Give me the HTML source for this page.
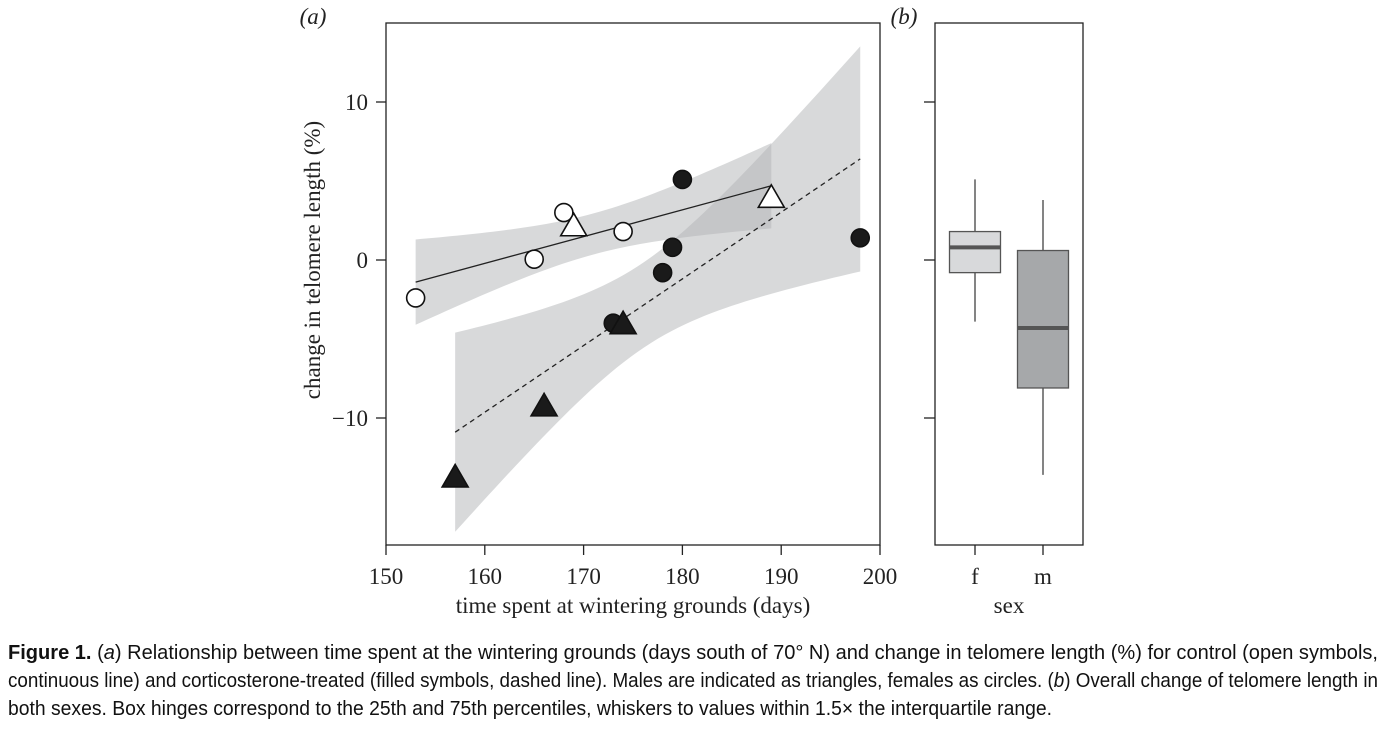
<!DOCTYPE html>
<html><head><meta charset="utf-8"><style>
body{margin:0;background:#fff;width:1386px;height:740px;overflow:hidden}
svg{display:block}
.t{font-family:"Liberation Serif",serif;font-size:23px;fill:#222}
.c{font-family:"Liberation Sans Narrow","Liberation Sans",sans-serif;font-size:20px;fill:#111}
</style></head><body>
<svg id="fig" width="1386" height="740">
<g id="pa"></g>
<g id="pb"></g>
<g>
<text class="c" x="8" y="659" textLength="1370" lengthAdjust="spacingAndGlyphs"><tspan font-weight="bold">Figure 1.</tspan> (<tspan font-style="italic">a</tspan>) Relationship between time spent at the wintering grounds (days south of 70° N) and change in telomere length (%) for control (open symbols,</text>
<text class="c" x="8" y="687" textLength="1370" lengthAdjust="spacingAndGlyphs">continuous line) and corticosterone-treated (filled symbols, dashed line). Males are indicated as triangles, females as circles. (<tspan font-style="italic">b</tspan>) Overall change of telomere length in</text>
<text class="c" x="8" y="715" textLength="1044" lengthAdjust="spacingAndGlyphs">both sexes. Box hinges correspond to the 25th and 75th percentiles, whiskers to values within 1.5× the interquartile range.</text>
</g>
</svg>
<script>
const xTicks=[150,160,170,180,190,200];
const yTicks=[10,0,-10];
const ctrlCircX=[153,165,168,174];
const ctrlCircY=[-2.4,0.05,3.0,1.8];
const ctrlTriX=[169,189];
const ctrlTriY=[2.2,4.0];
const trtCircX=[180,179,178,173,198];
const trtCircY=[5.1,0.8,-0.8,-4.0,1.4];
const trtTriX=[157,166,174];
const trtTriY=[-13.7,-9.2,-4.0];
const ctrlLine=[[153,-1.4],[189,4.7]];
const trtLine=[[157,-10.9],[198,6.4]];
const ctrlBand={x0:153,x1:189,w0:1.3,xm:171,k:0.0173};
const trtBand={x0:157,x1:198,w0:2.7,xm:176,k:0.0898};
const boxCats=['f','m'];
const boxWhiskLo=[-3.9,-13.6];
const boxQ1=[-0.8,-8.1];
const boxMed=[0.8,-4.3];
const boxQ3=[1.8,0.6];
const boxWhiskHi=[5.1,3.8];

const NS='http://www.w3.org/2000/svg';
function mk(p,tag,a,txt){const e=document.createElementNS(NS,tag);for(const k in a)e.setAttribute(k,a[k]);if(txt!==undefined)e.textContent=txt;p.appendChild(e);return e;}
const X=v=>386+(v-150)*9.88;
const Y=v=>260-v*15.8;
const pa=document.getElementById('pa'), pb=document.getElementById('pb');

function band(b,line,name){
  const sl=(line[1][1]-line[0][1])/(line[1][0]-line[0][0]);
  const c=x=>line[0][1]+sl*(x-line[0][0]);
  const w=x=>Math.sqrt(b.w0*b.w0+b.k*(x-b.xm)*(x-b.xm));
  let up=[],lo=[];
  for(let i=0;i<=60;i++){const x=b.x0+(b.x1-b.x0)*i/60;up.push(X(x)+','+Y(c(x)+w(x)));lo.unshift(X(x)+','+Y(c(x)-w(x)));}
  const e=mk(pa,'polygon',{points:up.concat(lo).join(' '),fill:'#b2b3b5','fill-opacity':0.5});
  
  
}
band(ctrlBand,ctrlLine,'control-confidence-band');
band(trtBand,trtLine,'treated-confidence-band');
let l=mk(pa,'line',{x1:X(ctrlLine[0][0]),y1:Y(ctrlLine[0][1]),x2:X(ctrlLine[1][0]),y2:Y(ctrlLine[1][1]),stroke:'#222','stroke-width':1.3});


l=mk(pa,'line',{x1:X(trtLine[0][0]),y1:Y(trtLine[0][1]),x2:X(trtLine[1][0]),y2:Y(trtLine[1][1]),stroke:'#222','stroke-width':1.3,'stroke-dasharray':'5,4'});



function circ(xs,ys,fill,name){xs.forEach((x,i)=>{const e=mk(pa,'circle',{cx:X(x),cy:Y(ys[i]),r:9,fill:fill,stroke:'#111','stroke-width':1.6});

});}
function tri(xs,ys,fill,name){xs.forEach((x,i)=>{const cx=X(x),cy=Y(ys[i]);const e=mk(pa,'polygon',{points:`${cx},${cy-12} ${cx-13},${cy+10.5} ${cx+13},${cy+10.5}`,fill:fill,stroke:'#111','stroke-width':1.6});

});}
circ(ctrlCircX,ctrlCircY,'#fff','control-female-point');
tri(ctrlTriX,ctrlTriY,'#fff','control-male-point');
circ(trtCircX,trtCircY,'#1a1a1a','treated-female-point');
tri(trtTriX,trtTriY,'#1a1a1a','treated-male-point');

let r=mk(pa,'rect',{x:386,y:23,width:494,height:522,fill:'none',stroke:'#222','stroke-width':1.3});


xTicks.forEach(v=>{mk(pa,'line',{x1:X(v),x2:X(v),y1:545,y2:555,stroke:'#222','stroke-width':1.3});
const t=mk(pa,'text',{x:X(v),y:584,'text-anchor':'middle',class:'t'},v);

});
yTicks.forEach(v=>{mk(pa,'line',{x1:376,x2:386,y1:Y(v),y2:Y(v),stroke:'#222','stroke-width':1.3});
const t=mk(pa,'text',{x:368,y:Y(v)+8,'text-anchor':'end',class:'t'},v<0?'\u2212'+(-v):v);

});
let t=mk(pa,'text',{x:633,y:613,'text-anchor':'middle',class:'t'},'time spent at wintering grounds (days)');


t=mk(pa,'text',{x:320,y:260,'text-anchor':'middle',class:'t',transform:'rotate(-90 320 260)'},'change in telomere length (%)');


t=mk(pa,'text',{x:313,y:24,'text-anchor':'middle',class:'t','font-style':'italic'},'(a)');



// panel b
const BX=[975,1043], BW=51, fills=['#d8d9db','#a6a8aa'];
boxCats.forEach((c,i)=>{
  const cx=BX[i];
  let e=mk(pb,'line',{x1:cx,x2:cx,y1:Y(boxWhiskHi[i]),y2:Y(boxWhiskLo[i]),stroke:'#333','stroke-width':1.2});
  
  
  e=mk(pb,'rect',{x:cx-BW/2,y:Y(boxQ3[i]),width:BW,height:Y(boxQ1[i])-Y(boxQ3[i]),fill:fills[i],stroke:'#555','stroke-width':1.3});
  
  
  e=mk(pb,'line',{x1:cx-BW/2,x2:cx+BW/2,y1:Y(boxMed[i]),y2:Y(boxMed[i]),stroke:'#555','stroke-width':4});
  
  
  mk(pb,'line',{x1:cx,x2:cx,y1:545,y2:555,stroke:'#222','stroke-width':1.3});
  e=mk(pb,'text',{x:cx,y:584,'text-anchor':'middle',class:'t'},c);
  
  
});
r=mk(pb,'rect',{x:935,y:23,width:148,height:522,fill:'none',stroke:'#222','stroke-width':1.3});


yTicks.forEach(v=>mk(pb,'line',{x1:924,x2:935,y1:Y(v),y2:Y(v),stroke:'#222','stroke-width':1.3}));
t=mk(pb,'text',{x:1009,y:613,'text-anchor':'middle',class:'t'},'sex');


t=mk(pb,'text',{x:904,y:24,'text-anchor':'middle',class:'t','font-style':'italic'},'(b)');


</script>
</body></html>
